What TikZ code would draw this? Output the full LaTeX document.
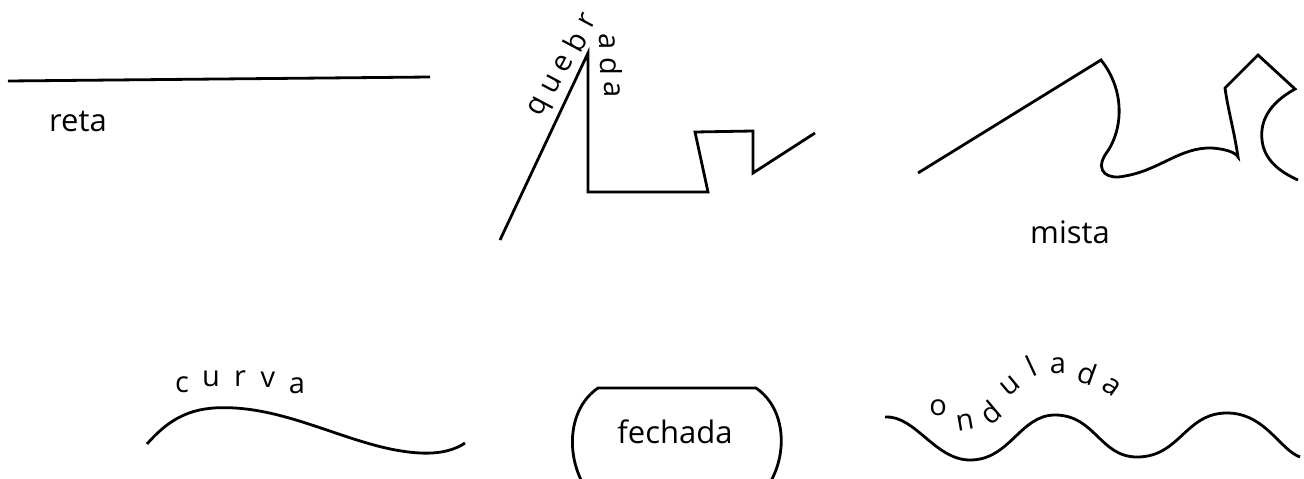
\documentclass[tikz,border=0pt]{standalone}
\usepackage{fontspec}
\setmainfont{Open Sans}
\begin{document}
\begin{tikzpicture}[x=1pt,y=-1pt,
  ln/.style={line width=2.8pt,line join=miter,line cap=butt},
  lbl/.style={inner sep=0pt,font=\fontsize{31}{36}\selectfont},
  ltr/.style={inner sep=0pt,font=\fontsize{29}{34}\selectfont}]
\useasboundingbox (0,0) rectangle (1304,479);
\clip (0,0) rectangle (1304,479);
% reta
\draw[ln] (8,81) -- (430,77);
\node[lbl] (reta) at (78,121) {reta};
% quebrada
\draw[ln] (500,240) -- (588,53) -- (588,192) -- (708,192) -- (695,132) -- (753,131) -- (753,173) -- (815,133);
\node[ltr,rotate=62] (q1) at (541,108) {q};
\node[ltr,rotate=62] (q2) at (552,84) {u};
\node[ltr,rotate=62] (q3) at (563,64) {e};
\node[ltr,rotate=62] (q4) at (575,42) {b};
\node[ltr,rotate=62] (q5) at (587,21) {r};
\node[ltr,rotate=-90] (q6) at (607,42) {a};
\node[ltr,rotate=-90] (q7) at (611,66) {d};
\node[ltr,rotate=-90] (q8) at (612,90) {a};
% mista
\draw[ln] (918,173) -- (1101,60) .. controls (1125,90) and (1124,130) .. (1105,155)
  .. controls (1095,172) and (1108,180) .. (1125,176)
  .. controls (1160,170) and (1180,147) .. (1212,148)
  .. controls (1225,149) and (1235,152) .. (1238,157)
  .. controls (1234,130) and (1228,110) .. (1225,88)
  -- (1258,55) -- (1295,89)
  .. controls (1268,104) and (1260,122) .. (1262,140)
  .. controls (1264,160) and (1280,172) .. (1298,180);
\node[lbl] (mista) at (1070,232) {mista};
% curva
\draw[ln] (147,444) .. controls (175,412) and (200,406) .. (235,408)
  .. controls (300,412) and (360,450) .. (420,453)
  .. controls (440,454) and (455,450) .. (465,443);
\node[ltr] (c1) at (182,385) {c};
\node[ltr] (c2) at (211,379) {u};
\node[ltr] (c3) at (240,379) {r};
\node[ltr] (c4) at (268,380) {v};
\node[ltr] (c5) at (297,386) {a};
% fechada
\draw[ln] (587,490) .. controls (566,460) and (566,410) .. (598,388) -- (756,388)
  .. controls (788,410) and (788,460) .. (765,490);
\node[lbl] (fechada) at (675,432) {fechada};
% ondulada
\draw[ln] (885,417) .. controls (915,415) and (935,460) .. (970,460)
  .. controls (1010,460) and (1020,415) .. (1055,415)
  .. controls (1095,415) and (1100,457) .. (1137,457)
  .. controls (1180,457) and (1185,413) .. (1227,413)
  .. controls (1265,413) and (1280,450) .. (1300,457);
\node[ltr] (o1) at (938,408) {o};
\node[ltr,rotate=10] (o2) at (965,422) {n};
\node[ltr,rotate=40] (o3) at (990,412) {d};
\node[ltr,rotate=40] (o4) at (1010,386) {u};
\node[ltr,rotate=25] (o5) at (1031,366) {l};
\node[ltr] (o6) at (1058,366) {a};
\node[ltr,rotate=-20] (o7) at (1088,373) {d};
\node[ltr,rotate=-35] (o8) at (1112,387) {a};
\end{tikzpicture}
\end{document}
